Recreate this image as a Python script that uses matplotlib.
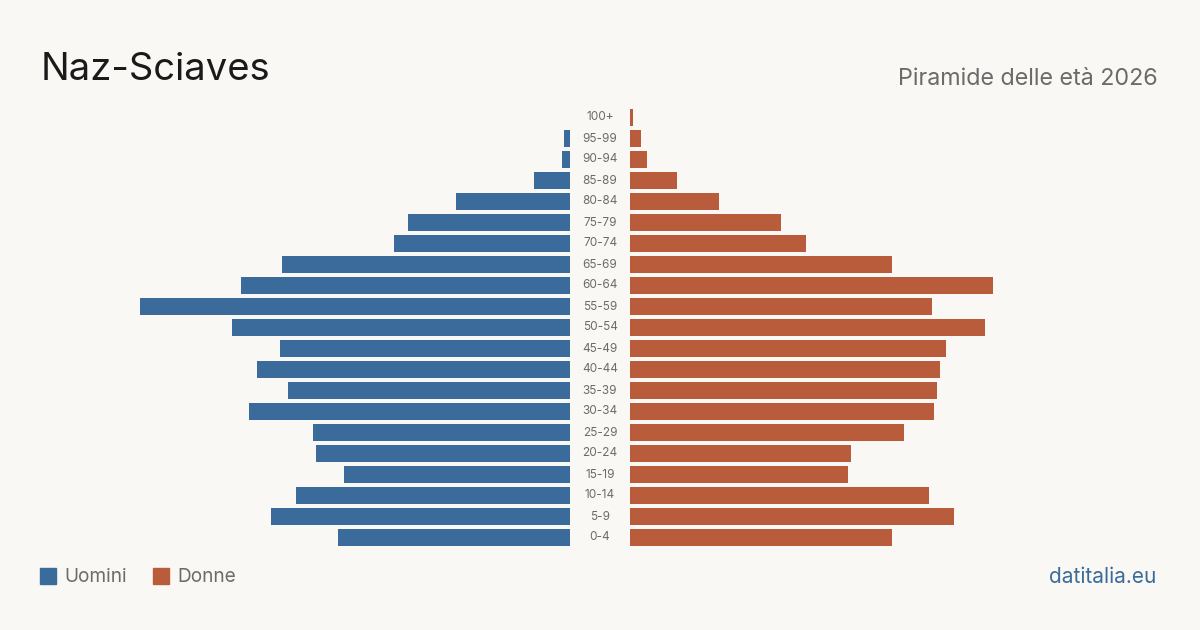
import matplotlib.pyplot as plt
import matplotlib.transforms as mtransforms
from matplotlib.patches import Rectangle

plt.rcParams['font.family'] = ['Inter', 'DejaVu Sans']

age_groups = ['0-4', '5-9', '10-14', '15-19', '20-24', '25-29', '30-34', '35-39',
              '40-44', '45-49', '50-54', '55-59', '60-64', '65-69', '70-74',
              '75-79', '80-84', '85-89', '90-94', '95-99', '100+']
men = [83, 107, 98, 81, 91, 92, 115, 101, 112, 104, 121, 154, 118, 103, 63,
       58, 41, 13, 3, 2, 0]
women = [94, 116, 107, 78, 79, 98, 109, 110, 111, 113, 127, 108, 130, 94, 63,
         54, 32, 17, 6, 4, 1]

BG = '#f9f8f4'
BLUE = '#3b6b9b'
RED = '#b95c3c'
GREY = '#6b6b6b'

W, H = 1200, 630
fig = plt.figure(figsize=(12, 6.3), dpi=100, facecolor=BG)

xmax = max(max(men), max(women))
ys = list(range(len(age_groups)))
bottom = (H - 548) / H
height = 441 / H
ax_l = fig.add_axes([140 / W, bottom, 430 / W, height])
ax_r = fig.add_axes([630 / W, bottom, 430 / W, height])

ax_l.barh(ys, men, height=0.81, color=BLUE)
ax_r.barh(ys, women, height=0.81, color=RED)
ax_l.set_xlim(xmax, 0)
ax_r.set_xlim(0, xmax)
for ax in (ax_l, ax_r):
    ax.set_ylim(-0.5, len(age_groups) - 0.5)
    ax.axis('off')

trans = mtransforms.blended_transform_factory(fig.transFigure, ax_r.transData)
for y, lab in zip(ys, age_groups):
    fig.text(0.5, y, lab, transform=trans, ha='center', va='center',
             fontsize=8.5, color=GREY)

fig.text(41 / W, 1 - 80 / H, 'Naz-Sciaves', fontsize=27.5, color='#1a1a1a',
         ha='left', va='baseline')
fig.text(1158 / W, 1 - 85 / H, 'Piramide delle età 2026', fontsize=16.8,
         color=GREY, ha='right', va='baseline')

# legend
fig.patches.append(Rectangle((40 / W, 1 - 584 / H), 16 / W, 16 / H,
                             transform=fig.transFigure, color=BLUE))
fig.text(64 / W, 1 - 577 / H, 'Uomini', fontsize=13.7, color=GREY,
         ha='left', va='center')
fig.patches.append(Rectangle((153 / W, 1 - 584 / H), 16 / W, 16 / H,
                             transform=fig.transFigure, color=RED))
fig.text(177 / W, 1 - 577 / H, 'Donne', fontsize=13.7, color=GREY,
         ha='left', va='center')

fig.text(1156 / W, 1 - 577 / H, 'datitalia.eu', fontsize=15, color=BLUE,
         ha='right', va='center')

fig.savefig('out.png', dpi=100, facecolor=BG)
